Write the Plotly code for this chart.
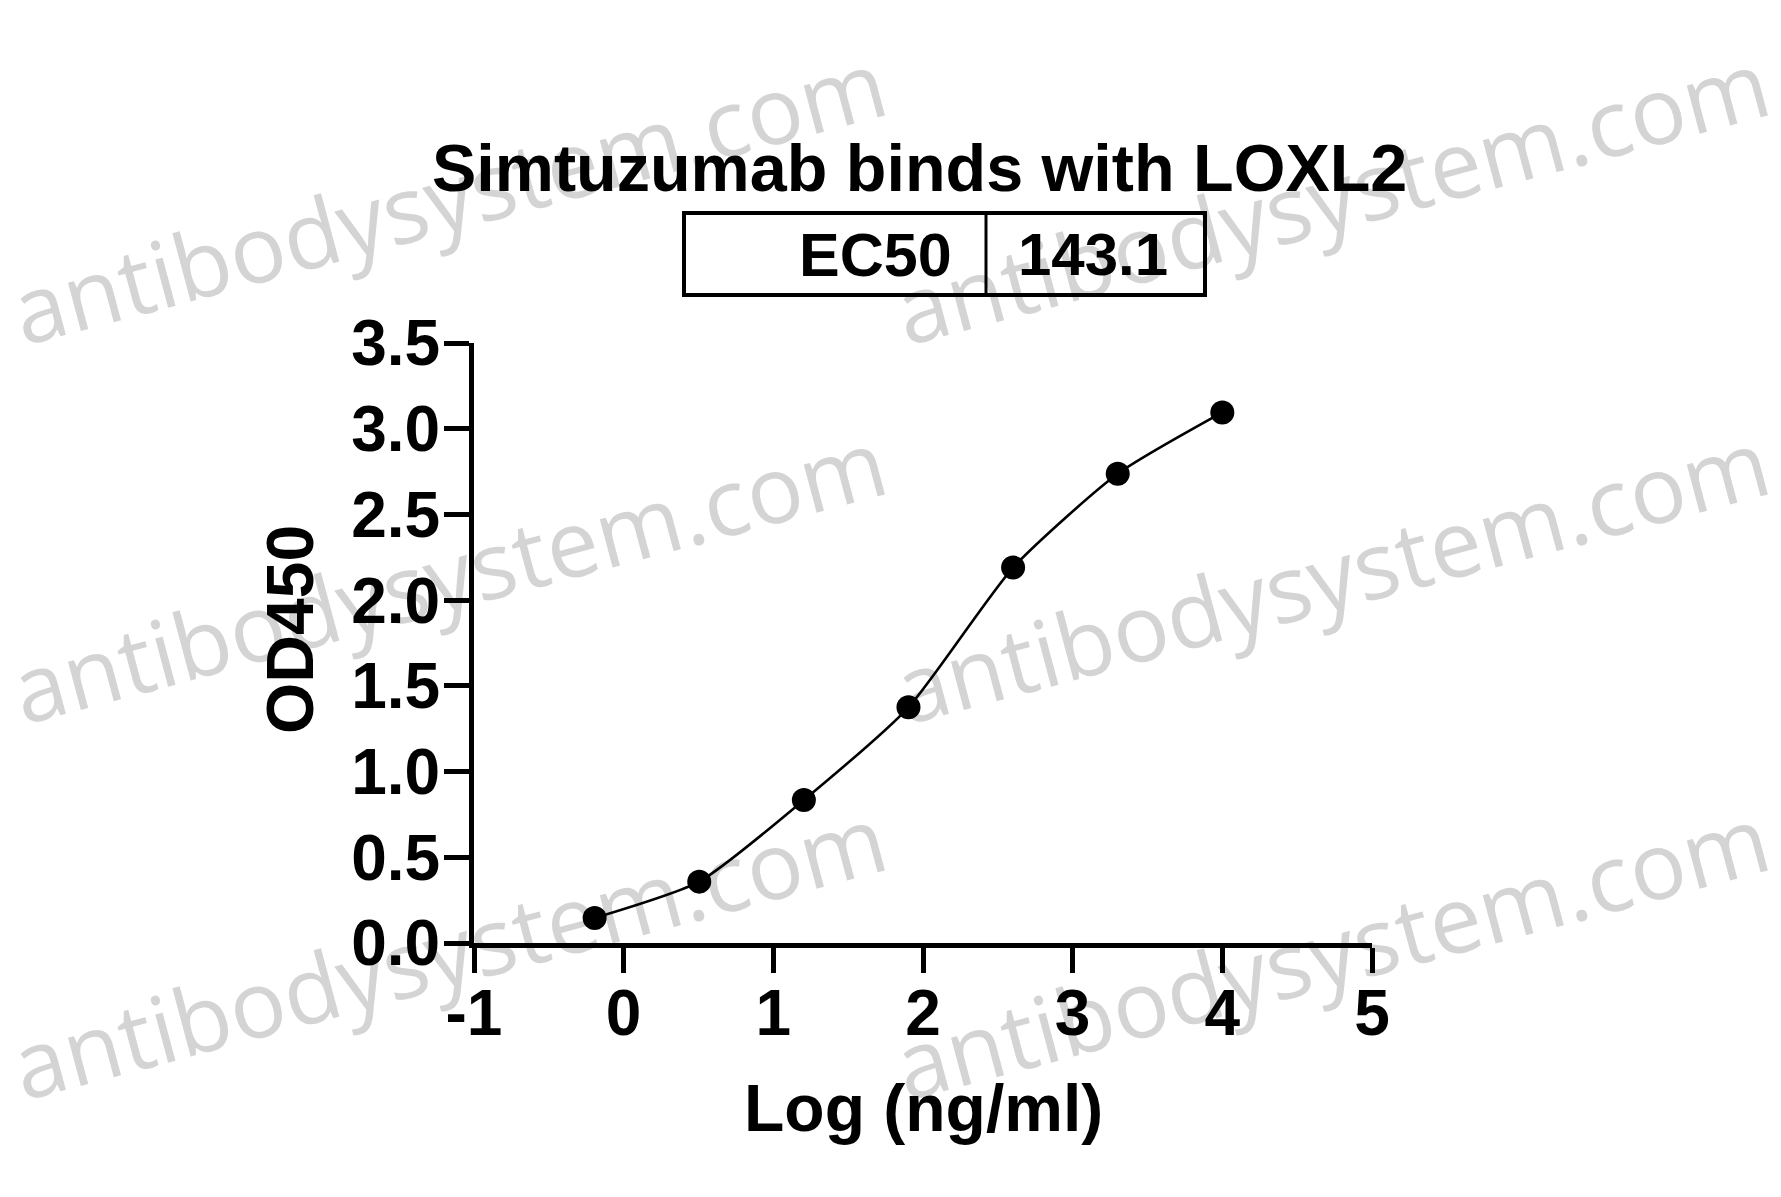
import plotly.graph_objects as go

# ---------------- data ----------------
log_conc = [-0.194, 0.505, 1.204, 1.903, 2.602, 3.301, 4.0]
od450 = [0.146, 0.358, 0.834, 1.375, 2.190, 2.737, 3.095]

x_tickvals = [-1, 0, 1, 2, 3, 4, 5]
x_ticktext = ["-1", "0", "1", "2", "3", "4", "5"]
y_tickvals = [0.0, 0.5, 1.0, 1.5, 2.0, 2.5, 3.0, 3.5]
y_ticktext = ["0.0", "0.5", "1.0", "1.5", "2.0", "2.5", "3.0", "3.5"]

title_text = "Simtuzumab binds with LOXL2"
ec50_label = "EC50"
ec50_value = "143.1"
x_title = "Log (ng/ml)"
y_title = "OD450"
watermark_text = "antibodysystem.com"

# ---------------- layout geometry (pixels) ----------------
W, H = 1781, 1197
OFF = 8  # page body margin of the browser
L, R, T, B = 474, 1372, 343, 943


def px2x(px):
    return (px - L) / (R - L)


def py2y(py):
    return (B - py) / (B - T)


FONT = "Liberation Sans, Arial, Helvetica, sans-serif"

fig = go.Figure()
fig.add_trace(go.Scatter(
    x=log_conc, y=od450,
    mode="lines+markers",
    line=dict(color="black", width=2.6, shape="spline", smoothing=0.6),
    marker=dict(color="black", size=24),
    showlegend=False,
    hoverinfo="x+y",
))

shapes = []
# watermarks (behind everything)
wm_centers = [(450, 201), (1333, 201), (450, 580), (1333, 580), (450, 956), (1333, 956)]
for cx, cy in wm_centers:
    shapes.append(dict(
        type="rect", xref="paper", yref="paper", layer="below",
        x0=px2x(cx - 5), x1=px2x(cx + 5), y0=py2y(cy + 5), y1=py2y(cy - 5),
        line=dict(width=0), fillcolor="rgba(0,0,0,0)",
        label=dict(text=watermark_text, textangle=-15, textposition="middle center",
                   font=dict(family="Open Sans, sans-serif", size=93, color="#d4d4d4")),
    ))

# EC50 table box
shapes.append(dict(type="rect", xref="paper", yref="paper",
                   x0=px2x(684), x1=px2x(1205), y0=py2y(295), y1=py2y(213),
                   line=dict(color="black", width=4)))
shapes.append(dict(type="line", xref="paper", yref="paper",
                   x0=px2x(986), x1=px2x(986), y0=py2y(295), y1=py2y(213),
                   line=dict(color="black", width=3)))

annotations = [
    dict(text="<b>%s</b>" % title_text, xref="paper", yref="paper",
         x=px2x(919), y=py2y(168), xanchor="center", yanchor="middle",
         showarrow=False, font=dict(family=FONT, size=66.5, color="black")),
    dict(text="<b>%s</b>" % ec50_label, xref="paper", yref="paper",
         x=px2x(954), y=py2y(255), xanchor="right", yanchor="middle",
         showarrow=False, font=dict(family=FONT, size=61, color="black")),
    dict(text="<b>%s</b>" % ec50_value, xref="paper", yref="paper",
         x=px2x(1093), y=py2y(255), xanchor="center", yanchor="middle",
         showarrow=False, font=dict(family=FONT, size=60, color="black")),
    dict(text="<b>%s</b>" % x_title, xref="paper", yref="paper",
         x=px2x(923), y=py2y(1108), xanchor="center", yanchor="middle",
         showarrow=False, font=dict(family=FONT, size=66, color="black")),
    dict(text="<b>%s</b>" % y_title, xref="paper", yref="paper",
         x=px2x(290), y=py2y(630), xanchor="center", yanchor="middle",
         textangle=-90, showarrow=False, font=dict(family=FONT, size=66, color="black")),
]

axis_common = dict(
    showline=True, linecolor="black", linewidth=5,
    ticks="outside", ticklen=25, tickwidth=5, tickcolor="black",
    showgrid=False, zeroline=False,
)

fig.update_layout(
    width=W, height=H,
    margin=dict(l=L - OFF, r=W - (R - OFF), t=T - OFF, b=H - (B - OFF), pad=0),
    paper_bgcolor="white", plot_bgcolor="rgba(0,0,0,0)",
    xaxis=dict(range=[-1, 5], tickvals=x_tickvals, ticktext=x_ticktext,
               ticklabelstandoff=-15,
               tickfont=dict(family=FONT, size=64, color="black", weight="bold"),
               **axis_common),
    yaxis=dict(range=[0, 3.5], tickvals=y_tickvals, ticktext=y_ticktext,
               ticklabelstandoff=-9,
               tickfont=dict(family=FONT, size=64, color="black", weight="bold"),
               **axis_common),
    shapes=shapes,
    annotations=annotations,
    showlegend=False,
)

fig.write_html("out.html")
